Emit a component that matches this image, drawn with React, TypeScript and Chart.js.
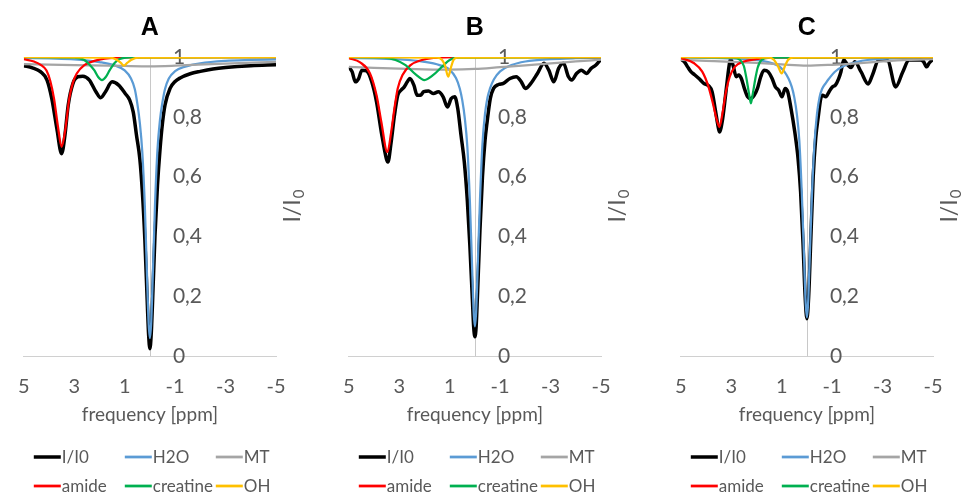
import React, { useEffect, useRef } from 'react';
import { Chart, registerables } from 'chart.js';
Chart.register(...registerables);

type Pt = [number, number];

// ---------- Panel A ----------
const A_I: Pt[] = [[5,0.971],[4.66,0.964],[4.34,0.951],[4.08,0.923],[3.89,0.861],[3.69,0.761],[3.5,0.677],[3.37,0.738],[3.24,0.839],[3.05,0.912],[2.86,0.934],[2.66,0.936],[2.4,0.923],[2.14,0.884],[1.95,0.864],[1.76,0.884],[1.5,0.917],[1.24,0.906],[0.98,0.878],[0.8,0.856],[0.66,0.816],[0.53,0.738],[0.4,0.66],[0.3,0.55],[0.2,0.39],[0.1,0.17],[0.05,0.07],[0,0.025],[-0.05,0.07],[-0.1,0.17],[-0.2,0.4],[-0.3,0.57],[-0.4,0.69],[-0.5,0.78],[-0.6,0.84],[-0.8,0.895],[-1,0.918],[-1.2,0.93],[-1.6,0.944],[-2,0.952],[-2.5,0.96],[-3,0.965],[-4,0.971],[-5,0.974]];
const A_H2O: Pt[] = [[5,0.997],[4,0.995],[3,0.992],[2,0.983],[1.4,0.972],[1,0.955],[0.75,0.928],[0.6,0.893],[0.5,0.845],[0.4,0.78],[0.3,0.68],[0.2,0.5],[0.1,0.23],[0.05,0.11],[0,0.06],[-0.05,0.11],[-0.1,0.23],[-0.2,0.5],[-0.3,0.69],[-0.4,0.79],[-0.5,0.85],[-0.6,0.893],[-0.75,0.928],[-1,0.953],[-1.4,0.968],[-2,0.979],[-3,0.987],[-4,0.99],[-5,0.992]];
const A_MT: Pt[] = [[5,0.976],[3,0.973],[1,0.97],[0,0.969],[-1,0.971],[-3,0.978],[-5,0.984]];
const A_amide: Pt[] = [[5,0.993],[4.6,0.985],[4.3,0.972],[4.1,0.955],[3.95,0.92],[3.8,0.86],[3.65,0.77],[3.5,0.7],[3.35,0.76],[3.2,0.86],[3.05,0.915],[2.9,0.945],[2.6,0.973],[2.2,0.987],[1.6,0.996],[1,0.999],[-5,1]];
const A_creatine: Pt[] = [[5,1],[3,0.998],[2.6,0.99],[2.4,0.975],[2.2,0.955],[2.05,0.933],[1.9,0.923],[1.75,0.933],[1.6,0.955],[1.4,0.98],[1.2,0.993],[0.8,0.999],[-5,1]];
const A_OH: Pt[] = [[5,1],[1.6,0.998],[1.3,0.99],[1.15,0.98],[1.03,0.971],[0.9,0.98],[0.75,0.99],[0.45,0.998],[-5,1]];

// ---------- Panel B ----------
const B_I: Pt[] = [[5,0.967],[4.87,0.951],[4.74,0.917],[4.61,0.928],[4.48,0.956],[4.29,0.953],[4.09,0.917],[3.9,0.85],[3.71,0.749],[3.51,0.66],[3.45,0.649],[3.32,0.716],[3.19,0.805],[3.06,0.872],[2.93,0.889],[2.8,0.9],[2.68,0.917],[2.58,0.928],[2.42,0.906],[2.29,0.872],[2.16,0.872],[2.03,0.884],[1.84,0.886],[1.64,0.878],[1.45,0.884],[1.26,0.867],[1.09,0.833],[0.94,0.861],[0.8,0.867],[0.68,0.828],[0.55,0.738],[0.42,0.649],[0.3,0.52],[0.2,0.37],[0.1,0.19],[0.05,0.1],[0,0.065],[-0.05,0.1],[-0.1,0.2],[-0.2,0.42],[-0.3,0.6],[-0.4,0.72],[-0.48,0.78],[-0.61,0.861],[-0.74,0.895],[-0.94,0.908],[-1.13,0.912],[-1.39,0.928],[-1.64,0.934],[-1.84,0.917],[-2,0.895],[-2.22,0.912],[-2.48,0.945],[-2.74,0.979],[-2.93,0.956],[-3.13,0.917],[-3.32,0.962],[-3.51,0.979],[-3.71,0.934],[-3.84,0.923],[-4.03,0.945],[-4.22,0.956],[-4.42,0.945],[-4.61,0.962],[-4.8,0.973],[-5,0.993]];
const B_H2O: Pt[] = [[5,0.997],[4,0.995],[3,0.992],[2,0.984],[1.4,0.973],[1,0.957],[0.75,0.93],[0.6,0.895],[0.5,0.855],[0.4,0.795],[0.3,0.7],[0.2,0.52],[0.1,0.27],[0.05,0.15],[0,0.1],[-0.05,0.15],[-0.1,0.27],[-0.2,0.52],[-0.3,0.71],[-0.4,0.81],[-0.5,0.865],[-0.6,0.895],[-0.75,0.925],[-1,0.952],[-1.45,0.973],[-2,0.985],[-3,0.993],[-4,0.996],[-5,0.997]];
const B_MT: Pt[] = [[5,0.967],[4,0.964],[3,0.961],[2,0.959],[1,0.958],[0,0.96],[-1,0.966],[-2,0.972],[-3,0.979],[-4,0.985],[-5,0.991]];
const B_amide: Pt[] = [[5,0.996],[4.55,0.982],[4.16,0.945],[3.9,0.872],[3.71,0.783],[3.47,0.682],[3.32,0.749],[3.19,0.828],[3.06,0.895],[2.87,0.94],[2.55,0.973],[2.1,0.99],[1.6,0.997],[0.8,1],[-5,1]];
const B_creatine: Pt[] = [[5,1],[3.6,0.998],[3.15,0.99],[2.75,0.973],[2.35,0.942],[2,0.923],[1.65,0.94],[1.3,0.968],[1,0.99],[0.7,0.998],[-5,1]];
const B_OH: Pt[] = [[5,1],[1.5,0.998],[1.3,0.99],[1.18,0.97],[1.06,0.934],[0.95,0.965],[0.85,0.99],[0.7,0.998],[-5,1]];

// ---------- Panel C ----------
const C_I: Pt[] = [[5,0.992],[4.86,0.984],[4.73,0.967],[4.6,0.951],[4.47,0.942],[4.28,0.928],[4.09,0.912],[3.9,0.904],[3.76,0.884],[3.64,0.828],[3.53,0.772],[3.47,0.749],[3.34,0.794],[3.21,0.884],[3.08,0.973],[3.03,0.993],[2.93,0.973],[2.8,0.934],[2.7,0.94],[2.6,0.928],[2.48,0.895],[2.35,0.867],[2.22,0.861],[2.09,0.872],[1.96,0.895],[1.83,0.934],[1.7,0.956],[1.54,0.951],[1.38,0.928],[1.25,0.9],[1.12,0.889],[0.99,0.867],[0.86,0.895],[0.76,0.884],[0.63,0.828],[0.48,0.749],[0.35,0.66],[0.25,0.55],[0.15,0.37],[0.07,0.2],[0,0.125],[-0.07,0.2],[-0.15,0.38],[-0.25,0.6],[-0.35,0.73],[-0.45,0.8],[-0.55,0.861],[-0.62,0.872],[-0.75,0.867],[-0.88,0.884],[-1.01,0.9],[-1.13,0.906],[-1.26,0.928],[-1.35,0.951],[-1.46,0.99],[-1.6,0.975],[-1.75,0.965],[-1.9,0.984],[-2.15,0.95],[-2.43,0.91],[-2.6,0.94],[-2.85,0.99],[-3.2,0.988],[-3.52,0.9],[-3.8,0.95],[-4.05,0.99],[-4.5,0.99],[-4.62,0.985],[-4.75,0.967],[-4.85,0.98],[-5,0.992]];
const C_H2O: Pt[] = [[5,0.998],[4,0.997],[3,0.995],[2,0.99],[1.5,0.982],[1.12,0.97],[0.9,0.952],[0.73,0.928],[0.6,0.9],[0.5,0.865],[0.4,0.81],[0.3,0.72],[0.2,0.54],[0.1,0.3],[0.05,0.18],[0,0.13],[-0.05,0.18],[-0.1,0.3],[-0.2,0.54],[-0.3,0.71],[-0.4,0.81],[-0.5,0.865],[-0.6,0.893],[-0.75,0.913],[-0.88,0.928],[-1.1,0.95],[-1.46,0.97],[-2,0.984],[-2.4,0.99],[-3,0.994],[-4,0.997],[-5,0.998]];
const C_MT: Pt[] = [[5,0.99],[4,0.987],[3,0.984],[2,0.98],[1,0.975],[0,0.971],[-1,0.974],[-2,0.979],[-3,0.985],[-4,0.99],[-5,0.993]];
const C_amide: Pt[] = [[5,0.997],[4.47,0.979],[4.15,0.951],[3.9,0.9],[3.71,0.839],[3.57,0.789],[3.47,0.766],[3.34,0.816],[3.21,0.884],[3.06,0.934],[2.86,0.967],[2.54,0.984],[2,0.993],[1.4,0.998],[-5,1]];
const C_creatine: Pt[] = [[5,1],[2.9,0.998],[2.65,0.99],[2.5,0.97],[2.4,0.93],[2.3,0.88],[2.22,0.845],[2.14,0.88],[2.05,0.925],[1.95,0.965],[1.8,0.99],[1.5,0.998],[-5,1]];
const C_OH: Pt[] = [[5,1],[1.5,0.998],[1.3,0.99],[1.15,0.97],[1,0.945],[0.87,0.97],[0.75,0.99],[0.55,0.998],[-5,1]];

// ---------- Labels / styles ----------
const panelTitles = ['A', 'B', 'C'];
const seriesNames = ['I/I0', 'H2O', 'MT', 'amide', 'creatine', 'OH'];
const seriesColors = ['#000000', '#5b9bd5', '#a5a5a5', '#ff0000', '#00b050', '#ffc000'];
const xTicks = [5, 3, 1, -1, -3, -5];
const xTickLabels = ['5', '3', '1', '-1', '-3', '-5'];
const yTicks = [0, 0.2, 0.4, 0.6, 0.8, 1];
const yTickLabels = ['0', '0,2', '0,4', '0,6', '0,8', '1'];
const xTitle = 'frequency [ppm]';
const yTitleMain = 'I/I';
const yTitleSub = '0';

const panelSeries: Pt[][][] = [
  [A_I, A_H2O, A_MT, A_amide, A_creatine, A_OH],
  [B_I, B_H2O, B_MT, B_amide, B_creatine, B_OH],
  [C_I, C_H2O, C_MT, C_amide, C_creatine, C_OH],
];

const FONT = 'Lato';
const GREY_TEXT = '#595959';

const decorPlugin = {
  id: 'decor',
  beforeDatasetsDraw(chart: any) {
    const { ctx, chartArea, scales } = chart;
    const xs = scales.x;
    const ys = scales.y;
    const x0 = xs.getPixelForValue(0);
    ctx.save();
    ctx.strokeStyle = '#c8c8c8';
    ctx.lineWidth = 1;
    ctx.beginPath();
    ctx.moveTo(Math.round(x0) + 0.5, chartArea.top);
    ctx.lineTo(Math.round(x0) + 0.5, chartArea.bottom);
    ctx.stroke();
    ctx.fillStyle = GREY_TEXT;
    ctx.font = `21px ${FONT}`;
    ctx.textAlign = 'left';
    ctx.textBaseline = 'middle';
    yTicks.forEach((v, i) => {
      ctx.fillText(yTickLabels[i], x0 + 23, ys.getPixelForValue(v));
    });
    ctx.restore();
  },
  afterDraw(chart: any) {
    const { ctx, chartArea } = chart;
    ctx.save();
    // y axis title
    const cx = chartArea.right + 17;
    const cy = (chartArea.top + chartArea.bottom) / 2;
    ctx.translate(cx, cy);
    ctx.rotate(-Math.PI / 2);
    ctx.fillStyle = GREY_TEXT;
    ctx.textBaseline = 'middle';
    ctx.textAlign = 'left';
    ctx.font = `23px ${FONT}`;
    const w1 = ctx.measureText(yTitleMain).width;
    ctx.font = `15px ${FONT}`;
    const w2 = ctx.measureText(yTitleSub).width;
    const start = -(w1 + w2) / 2;
    ctx.font = `23px ${FONT}`;
    ctx.fillText(yTitleMain, start, 0);
    ctx.font = `15px ${FONT}`;
    ctx.fillText(yTitleSub, start + w1 + 1, 6);
    ctx.restore();

    // legend (3 columns x 2 rows)
    ctx.save();
    const colOff = [10, 101, 192];
    const rowY = [457, 486];
    ctx.font = `17px ${FONT}`;
    ctx.textBaseline = 'middle';
    ctx.textAlign = 'left';
    chart.data.datasets.forEach((ds: any, i: number) => {
      const col = i % 3;
      const row = Math.floor(i / 3);
      const lx = chartArea.left + colOff[col];
      const ly = rowY[row];
      ctx.strokeStyle = ds.borderColor;
      ctx.lineWidth = i === 0 ? 3.5 : 2.75;
      ctx.beginPath();
      ctx.moveTo(lx, ly);
      ctx.lineTo(lx + 27, ly);
      ctx.stroke();
      ctx.fillStyle = GREY_TEXT;
      ctx.fillText(ds.label, lx + 28, ly + 1);
    });
    ctx.restore();
  },
};

function Panel({ idx, left, width, padRight }: { idx: number; left: number; width: number; padRight: number }) {
  const ref = useRef<HTMLCanvasElement | null>(null);
  useEffect(() => {
    if (!ref.current) return;
    const series = panelSeries[idx];
    const chart = new Chart(ref.current, {
      type: 'line',
      data: {
        datasets: series.map((pts, i) => ({
          label: seriesNames[i],
          data: pts.map(([x, y]) => ({ x, y })),
          borderColor: seriesColors[i],
          backgroundColor: seriesColors[i],
          borderWidth: i === 0 ? 3.5 : 2.25,
          pointRadius: 0,
          cubicInterpolationMode: 'monotone',
          fill: false,
          order: 6 - i,
        })),
      },
      options: {
        animation: false,
        responsive: false,
        maintainAspectRatio: false,
        events: [],
        layout: { padding: { left: 18, right: padRight, top: 0, bottom: 64 } },
        scales: {
          x: {
            type: 'linear',
            reverse: true,
            min: -5,
            max: 5,
            afterBuildTicks: (axis: any) => {
              axis.ticks = xTicks.map((value) => ({ value }));
            },
            grid: { display: false, drawTicks: false, tickLength: 0 },
            border: { display: true, color: '#d0d0d0', width: 1 },
            ticks: {
              color: GREY_TEXT,
              font: { family: FONT, size: 20 },
              padding: 18,
              maxRotation: 0,
              autoSkip: false,
              callback: (v: any) => {
                const k = xTicks.indexOf(Number(v));
                return k >= 0 ? xTickLabels[k] : '';
              },
            },
            title: {
              display: true,
              text: xTitle,
              color: GREY_TEXT,
              font: { family: FONT, size: 19 },
              padding: { top: -13, bottom: 4 },
            },
          },
          y: { type: 'linear', min: 0, max: 1, display: false },
        },
        plugins: {
          legend: { display: false },
          tooltip: { enabled: false },
          title: {
            display: true,
            text: panelTitles[idx],
            color: '#000000',
            fullSize: false,
            font: { family: 'Liberation Sans', weight: 'bold', size: 25 },
            padding: { top: 13, bottom: 14 },
          },
        },
      } as any,
      plugins: [decorPlugin],
    });
    return () => chart.destroy();
  }, [idx]);
  return (
    <canvas
      ref={ref}
      width={width}
      height={494}
      style={{ position: 'absolute', left, top: 0, width, height: 494 }}
    />
  );
}

export default function App() {
  return (
    <div style={{ position: 'fixed', left: 0, top: 0, width: 972, height: 494, background: '#ffffff', overflow: 'hidden' }}>
      <Panel idx={0} left={0} width={324} padRight={48} />
      <Panel idx={1} left={325} width={324} padRight={48} />
      <Panel idx={2} left={657} width={315} padRight={39} />
    </div>
  );
}
